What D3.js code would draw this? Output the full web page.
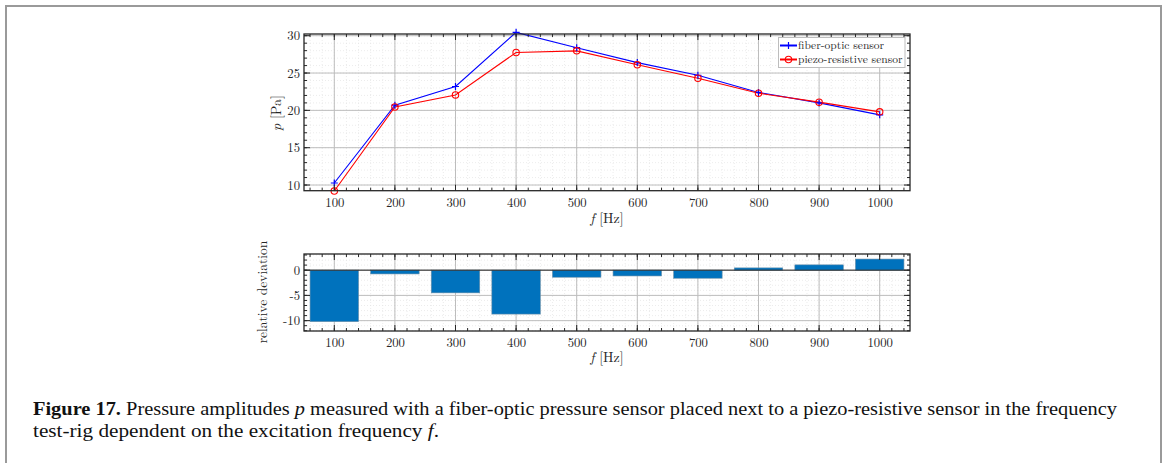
<!DOCTYPE html>
<html><head><meta charset="utf-8">
<script src="https://cdn.jsdelivr.net/npm/d3@7/dist/d3.min.js"></script>
<style>
body{margin:0;background:#fff;}
svg text{font-family:"Latin Modern Roman","Liberation Serif",serif;fill:#262626;}
svg text.cap{font-family:"Liberation Serif",serif;fill:#111;}
</style></head>
<body><svg id="c" width="1168" height="463"></svg>
<script>
const freqs = [100,200,300,400,500,600,700,800,900,1000];
const fiberOptic = [10.27,20.7,23.2,30.45,28.4,26.4,24.7,22.4,21.0,19.4];
const piezoResistive = [9.2,20.45,22.07,27.75,27.97,26.1,24.3,22.3,21.1,19.8];
const relDeviation = [-10.2,-0.75,-4.5,-8.7,-1.4,-1.15,-1.6,0.45,1.05,2.2];
const xTicks = [100,200,300,400,500,600,700,800,900,1000];
const yTicksTop = [10,15,20,25,30];
const yTicksBottom = [-10,-5,0];
const seriesNames = ["fiber-optic sensor","piezo-resistive sensor"];

const svg = d3.select("#c");
svg.append("path").attr("d","M6,470 V6 H1161 V470").attr("fill","none").attr("stroke","#9a9a9a").attr("stroke-width",2);

const L=304, R=910;
const x = d3.scaleLinear().domain([50,1050]).range([L,R]);
const yT = d3.scaleLinear().domain([9.24,30.23]).range([190.7,34]);
const yB = d3.scaleLinear().domain([-12.05,3.2]).range([331,254]);
const fmt = d => String(d);

function panel(y, top, bottom, yTicks, yMinorStep){
  const g = svg.append("g");
  const [y0,y1] = y.domain();
  const xMinor = d3.range(60,1050,20);
  const yMinor = d3.range(Math.ceil(y0), y1+1e-9, yMinorStep);
  g.selectAll(".mgx").data(xMinor).enter().append("line")
    .attr("x1",d=>x(d)).attr("x2",d=>x(d)).attr("y1",top).attr("y2",bottom)
    .attr("stroke","#e4e4e4").attr("stroke-width",0.7).attr("stroke-dasharray","1,2");
  g.selectAll(".mgy").data(yMinor).enter().append("line")
    .attr("x1",L).attr("x2",R).attr("y1",d=>y(d)).attr("y2",d=>y(d))
    .attr("stroke","#e4e4e4").attr("stroke-width",0.7).attr("stroke-dasharray","1,2");
  g.selectAll(".gx").data(xTicks).enter().append("line")
    .attr("x1",d=>x(d)).attr("x2",d=>x(d)).attr("y1",top).attr("y2",bottom)
    .attr("stroke","#bdbdbd").attr("stroke-width",1);
  g.selectAll(".gy").data(yTicks).enter().append("line")
    .attr("x1",L).attr("x2",R).attr("y1",d=>y(d)).attr("y2",d=>y(d))
    .attr("stroke","#bdbdbd").attr("stroke-width",1);
  return {g, xMinor, yMinor};
}

function frame(y, top, bottom, yTicks, xMinor, yMinor){
  const g = svg.append("g");
  const tk = "#262626";
  const mk = (vals, len, isX)=>{
    vals.forEach(v=>{
      if(isX){
        g.append("line").attr("x1",x(v)).attr("x2",x(v)).attr("y1",bottom).attr("y2",bottom-len).attr("stroke",tk);
        g.append("line").attr("x1",x(v)).attr("x2",x(v)).attr("y1",top).attr("y2",top+len).attr("stroke",tk);
      } else {
        g.append("line").attr("x1",L).attr("x2",L+len).attr("y1",y(v)).attr("y2",y(v)).attr("stroke",tk);
        g.append("line").attr("x1",R).attr("x2",R-len).attr("y1",y(v)).attr("y2",y(v)).attr("stroke",tk);
      }
    });
  };
  mk(xMinor,3,true); mk(xTicks,6,true);
  mk(yMinor,3,false); mk(yTicks,6,false);
  g.append("rect").attr("x",L).attr("y",top).attr("width",R-L).attr("height",bottom-top)
    .attr("fill","none").attr("stroke",tk).attr("stroke-width",1.3);
  const ax = svg.append("g").attr("transform",`translate(0,${bottom})`)
    .call(d3.axisBottom(x).tickValues(xTicks).tickFormat(fmt).tickSize(0).tickPadding(7));
  ax.select(".domain").remove();
  ax.selectAll("text").attr("font-size",12.7);
  const ay = svg.append("g").attr("transform",`translate(${L},0)`)
    .call(d3.axisLeft(y).tickValues(yTicks).tickFormat(fmt).tickSize(0).tickPadding(4));
  ay.select(".domain").remove();
  ay.selectAll("text").attr("font-size",12.7);
}

// ---- top panel ----
const pT = panel(yT,34,190.7,yTicksTop,1);
const line = d3.line().x((d,i)=>x(freqs[i])).y(d=>yT(d));
svg.append("path").datum(fiberOptic).attr("d",line).attr("fill","none").attr("stroke","#0000ff").attr("stroke-width",1.1);
svg.append("path").datum(piezoResistive).attr("d",line).attr("fill","none").attr("stroke","#ff0000").attr("stroke-width",1.1);
svg.selectAll(".plus").data(fiberOptic).enter().append("path")
  .attr("d",(d,i)=>{const cx=x(freqs[i]),cy=yT(d);return `M${cx-3.5},${cy}H${cx+3.5}M${cx},${cy-3.5}V${cy+3.5}`;})
  .attr("stroke","#0000ff").attr("stroke-width",1.2);
svg.selectAll(".circ").data(piezoResistive).enter().append("circle")
  .attr("cx",(d,i)=>x(freqs[i])).attr("cy",d=>yT(d)).attr("r",3.2)
  .attr("fill","none").attr("stroke","#ff0000").attr("stroke-width",1.1);
frame(yT,34,190.7,yTicksTop,pT.xMinor,pT.yMinor);

// legend
const lg = svg.append("g");
lg.append("rect").attr("x",778.5).attr("y",37.5).attr("width",126.5).attr("height",30)
  .attr("fill","#fff").attr("stroke","#bdbdbd").attr("stroke-width",1);
[[0,"#0000ff"],[1,"#ff0000"]].forEach(([i,c])=>{
  const cy = 45.5 + i*14;
  lg.append("line").attr("x1",780).attr("x2",797).attr("y1",cy).attr("y2",cy).attr("stroke",c).attr("stroke-width",2);
  if(i===0) lg.append("path").attr("d",`M785,${cy}H792M788.5,${cy-3.5}V${cy+3.5}`).attr("stroke",c).attr("stroke-width",1.2);
  else lg.append("circle").attr("cx",788.5).attr("cy",cy).attr("r",3.2).attr("fill","none").attr("stroke",c).attr("stroke-width",1.1);
  lg.append("text").attr("x",798).attr("y",cy+3.8).attr("font-size",11.5).text(seriesNames[i]);
});

// axis titles
svg.append("text").attr("x",607).attr("y",223).attr("text-anchor","middle").attr("font-size",14)
  .html('<tspan font-style="italic">f</tspan>  [Hz]');
svg.append("text").attr("transform","translate(281,113) rotate(-90)").attr("text-anchor","middle").attr("font-size",14)
  .html('<tspan font-style="italic">p</tspan>  [Pa]');

// ---- bottom panel ----
const pB = panel(yB,254,331,yTicksBottom,1);
svg.selectAll(".bar").data(relDeviation).enter().append("rect")
  .attr("x",(d,i)=>x(freqs[i]-40)).attr("width",x(180)-x(100))
  .attr("y",d=>yB(Math.max(0,d))).attr("height",d=>Math.abs(yB(d)-yB(0)))
  .attr("fill","#0072bd").attr("stroke","#6a8fa8").attr("stroke-width",0.6);
svg.append("line").attr("x1",L).attr("x2",R).attr("y1",yB(0)).attr("y2",yB(0)).attr("stroke","#262626").attr("stroke-width",1);
frame(yB,254,331,yTicksBottom,pB.xMinor,pB.yMinor);
svg.append("text").attr("x",607).attr("y",362).attr("text-anchor","middle").attr("font-size",14)
  .html('<tspan font-style="italic">f</tspan>  [Hz]');
svg.append("text").attr("transform","translate(267,292) rotate(-90)").attr("text-anchor","middle").attr("font-size",13.5)
  .text("relative deviation");

// caption
const cap = svg.append("g").attr("font-size",18);
cap.append("text").attr("class","cap").attr("x",33).attr("y",415).attr("textLength",1084).attr("lengthAdjust","spacingAndGlyphs")
  .html('<tspan font-weight="bold">Figure 17.</tspan> Pressure amplitudes  <tspan font-style="italic">p</tspan> measured with a fiber-optic pressure sensor placed next to a piezo-resistive sensor in the frequency');
cap.append("text").attr("class","cap").attr("x",33).attr("y",437).attr("textLength",406).attr("lengthAdjust","spacingAndGlyphs")
  .html('test-rig dependent on the excitation frequency <tspan font-style="italic">f</tspan>.');
</script></body></html>
